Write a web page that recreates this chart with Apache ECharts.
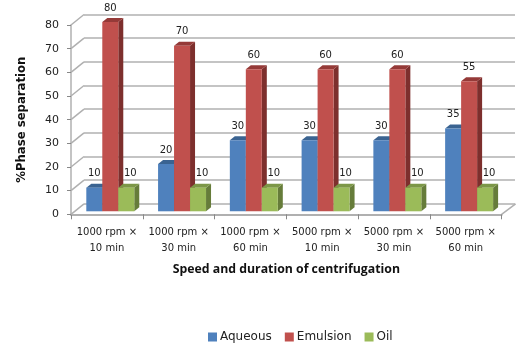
<!DOCTYPE html>
<html>
<head>
<meta charset="utf-8" />
<title>Phase separation</title>
<script src="https://cdn.jsdelivr.net/npm/echarts@6/dist/echarts.min.js"></script>
<style>
html, body { margin: 0; padding: 0; background: #fff; }
#chart { width: 523px; height: 352px; }
</style>
</head>
<body>
<div id="chart"></div>
<script>
var categories = ['1000 rpm ×\n10 min', '1000 rpm ×\n30 min', '1000 rpm ×\n60 min', '5000 rpm ×\n10 min', '5000 rpm ×\n30 min', '5000 rpm ×\n60 min'];
var aqueous = [10, 20, 30, 30, 30, 35];
var emulsion = [80, 70, 60, 60, 60, 55];
var oil = [10, 10, 10, 10, 10, 10];
var yTicks = [0, 10, 20, 30, 40, 50, 60, 70, 80];

// bar colours: front, top, side
var blue = ['#4f81bd', '#3a6391', '#2f5079'];
var red = ['#c0504d', '#953a38', '#7d2f2d'];
var green = ['#9bbb59', '#7c9747', '#667c3a'];
var font = '"DejaVu Sans", sans-serif';
var gridLine = '#b0b0b0';

// 3d look: the bars sit a little behind the front axis plane
function barSeries(name, values, colors, slot, labelDx) {
	return {
		name: name,
		type: 'custom',
		xAxisIndex: 0,
		yAxisIndex: 0,
		z: 5,
		itemStyle: { color: colors[0] },
		data: values.map(function (v, i) { return [i, v]; }),
		renderItem: function (params, api) {
			var base = api.coord([api.value(0), 0]);
			var top = api.coord([api.value(0), api.value(1)]);
			var w = api.size([1, 0])[0] * 0.2228;
			var x = base[0] + 3.4 + (slot - 1.5) * w;
			var y0 = base[1] - 3;
			var y1 = top[1] - 3;
			var dx = 5, dy = 4;
			return {
				type: 'group',
				children: [
					{ type: 'polygon', shape: { points: [[x + w, y0], [x + w + dx, y0 - dy], [x + w + dx, y1 - dy], [x + w, y1]] }, style: { fill: colors[2] } },
					{ type: 'polygon', shape: { points: [[x, y1], [x + dx, y1 - dy], [x + w + dx, y1 - dy], [x + w, y1]] }, style: { fill: colors[1] } },
					{ type: 'rect', shape: { x: x, y: y1, width: w, height: y0 - y1 }, style: { fill: colors[0] } },
					{ type: 'text', z2: 10, style: { text: String(api.value(1)), x: x + w / 2 + labelDx, y: y1 - 14, align: 'center', verticalAlign: 'middle', font: '10px ' + font, fill: '#222' } }
				]
			};
		}
	};
}

// diagonals joining the front axis to the back wall
var wallSeries = {
	type: 'custom',
	xAxisIndex: 0,
	yAxisIndex: 0,
	silent: true,
	z: 1,
	data: yTicks.map(function (v) { return [0, v]; }),
	renderItem: function (params, api) {
		var p = api.coord([0, api.value(1)]);
		p[0] -= api.size([1, 0])[0] / 2;
		return { type: 'line', shape: { x1: p[0], y1: p[1], x2: p[0] + 13, y2: p[1] - 10.5 }, style: { stroke: gridLine, lineWidth: 1.5 } };
	}
};
var floorSeries = {
	type: 'custom',
	xAxisIndex: 0,
	yAxisIndex: 0,
	silent: true,
	z: 1,
	data: [[categories.length - 1, 0]],
	renderItem: function (params, api) {
		var p = api.coord([api.value(0), 0]);
		p[0] += api.size([1, 0])[0] / 2;
		return { type: 'line', shape: { x1: p[0], y1: p[1], x2: p[0] + 14, y2: p[1] - 10.5 }, style: { stroke: gridLine, lineWidth: 1.5 } };
	}
};

var chart = echarts.init(document.getElementById('chart'));
chart.setOption({
	animation: false,
	backgroundColor: '#fff',
	grid: [
		{ left: 71, top: 25, width: 430.6, height: 189.3 },
		{ left: 84, top: 14.4, width: 431, height: 189.3 }
	],
	legend: {
		left: 208,
		top: 331,
		padding: 0,
		itemWidth: 9,
		itemHeight: 9,
		itemGap: 13,
		icon: 'rect',
		textStyle: { fontFamily: font, fontSize: 12, color: '#222', padding: [0, 0, 0, -2] },
		data: ['Aqueous', 'Emulsion', 'Oil']
	},
	xAxis: [
		{
			type: 'category',
			gridIndex: 0,
			data: categories,
			boundaryGap: true,
			axisLine: { lineStyle: { color: gridLine, width: 2 } },
			axisTick: { show: true, alignWithLabel: false, length: 5, lineStyle: { color: '#888' } },
			axisLabel: { interval: 0, margin: 10, fontFamily: font, fontSize: 10, lineHeight: 16, color: '#222' },
			name: 'Speed and duration of centrifugation',
			nameLocation: 'middle',
			nameGap: 49,
			nameTextStyle: { fontFamily: '"Open Sans", sans-serif', fontWeight: 'bold', fontSize: 12.3, color: '#111' }
		},
		{
			type: 'category',
			gridIndex: 1,
			data: categories,
			axisLine: { show: false },
			axisTick: { show: false },
			axisLabel: { show: false }
		}
	],
	yAxis: [
		{
			type: 'value',
			gridIndex: 0,
			min: 0,
			max: 80,
			interval: 10,
			splitLine: { show: false },
			axisLine: { show: true, lineStyle: { color: gridLine, width: 1.5 } },
			axisTick: { show: true, length: 4, lineStyle: { color: '#888' } },
			axisLabel: { margin: 12, fontFamily: font, fontSize: 11, color: '#222' },
			name: '%Phase separation',
			nameLocation: 'middle',
			nameGap: 43,
			nameTextStyle: { fontFamily: font, fontWeight: 'bold', fontSize: 11.7, color: '#111' }
		},
		{
			type: 'value',
			gridIndex: 1,
			min: 0,
			max: 80,
			interval: 10,
			splitLine: { show: true, lineStyle: { color: gridLine, width: 1.5 } },
			axisLine: { show: false },
			axisTick: { show: false },
			axisLabel: { show: false }
		}
	],
	series: [
		wallSeries,
		floorSeries,
		barSeries('Aqueous', aqueous, blue, 0, 0),
		barSeries('Emulsion', emulsion, red, 1, 0),
		barSeries('Oil', oil, green, 2, 4)
	]
});
</script>
</body>
</html>
